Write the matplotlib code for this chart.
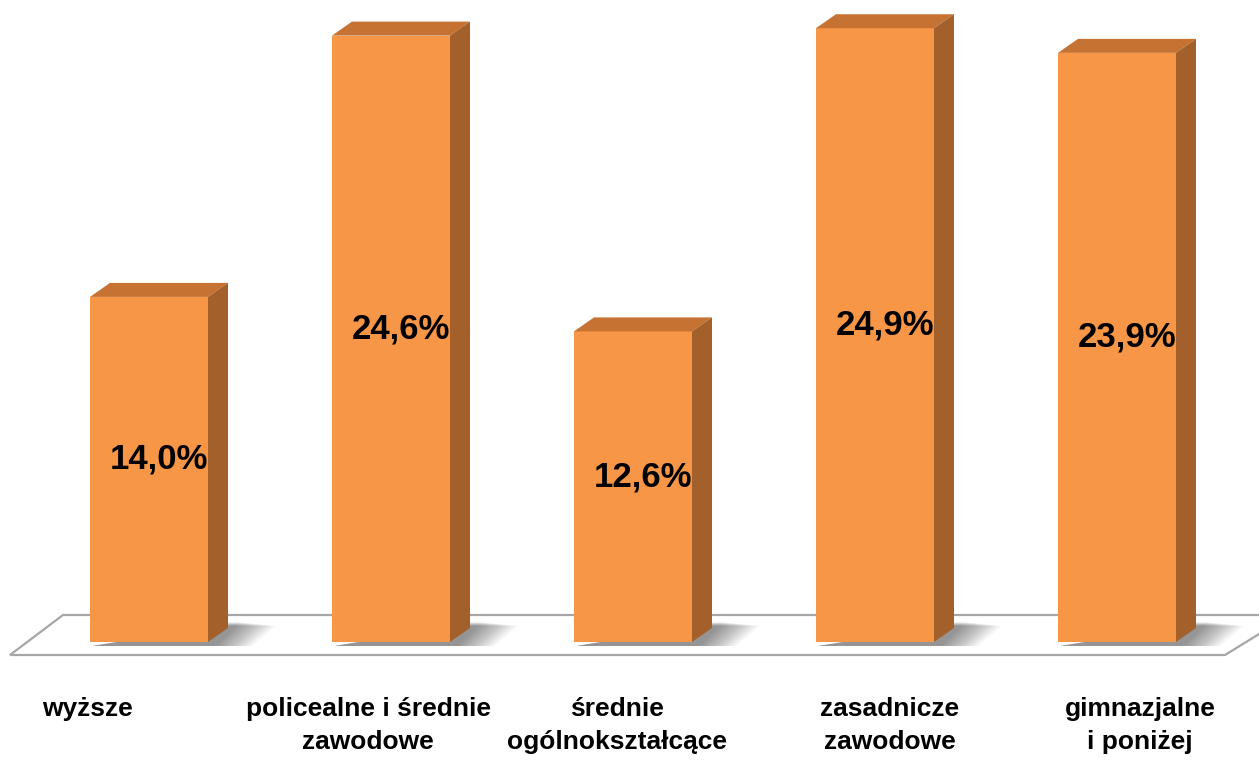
import matplotlib.pyplot as plt
from matplotlib.patches import Polygon
import numpy as np

plt.rcParams['font.family'] = ['Liberation Sans', 'DejaVu Sans']

categories = ['wyższe', 'policealne i średnie\nzawodowe', 'średnie\nogólnokształcące',
              'zasadnicze\nzawodowe', 'gimnazjalne\ni poniżej']
values = [14.0, 24.6, 12.6, 24.9, 23.9]
value_labels = ['14,0%', '24,6%', '12,6%', '24,9%', '23,9%']

FRONT = '#F79646'
TOP = '#C57232'
SIDE = '#A3602A'

# pixel -> data conversion (figure is 1259x763 px)
PX_X = 242.0   # px per category
PX_Y = 24.65   # px per percent
x0_px = 149.0
base_px = 642.0

W, H = 1259, 763
fig = plt.figure(figsize=(W / 100, H / 100), dpi=100)
ax = fig.add_axes([0, 0, 1, 1])
ax.set_xlim(-x0_px / PX_X, (W - x0_px) / PX_X)
ax.set_ylim(-(H - base_px) / PX_Y, base_px / PX_Y)
ax.axis('off')


def px(dx):
    return dx / PX_X


def py(dy):
    return dy / PX_Y


half = px(59)
dx = px(20)
dy = py(14)

# floor
floor_front = py(-13)
floor_back = py(27)
floor = Polygon([(px(10 - x0_px), floor_front), (px(63 - x0_px), floor_back),
                 (px(1290 - x0_px), floor_back), (px(1225 - x0_px), floor_front)],
                closed=True, facecolor='white', edgecolor='#A6A6A6', lw=1.6, zorder=1)
ax.add_patch(floor)

# soft shadows on the floor, to the right of each bar
n_layers = 24
for i in range(len(values)):
    for k in range(n_layers):
        g = (n_layers - k) * 1.6
        sh = Polygon([(i - half + px(2), py(-4)),
                      (i + half + px(6 + g), py(-4)),
                      (i + half + px(30 + g), py(20 - g * 0.1)),
                      (i + half + dx, py(20 - g * 0.1))],
                     closed=True, facecolor='black', alpha=0.018, lw=0,
                     antialiased=True, zorder=2)
        ax.add_patch(sh)

x = np.arange(len(values))
ax.bar(x, values, width=2 * half, color=FRONT, edgecolor='none', zorder=3)
for i, v in enumerate(values):
    top = Polygon([(i - half, v), (i - half + dx, v + dy), (i + half + dx, v + dy), (i + half, v)],
                  closed=True, facecolor=TOP, edgecolor='none', zorder=3)
    side = Polygon([(i + half, 0), (i + half + dx, dy), (i + half + dx, v + dy), (i + half, v)],
                   closed=True, facecolor=SIDE, edgecolor='none', zorder=3)
    ax.add_patch(top)
    ax.add_patch(side)
    ax.text(i + dx / 2, v / 2 + py(10), value_labels[i], ha='center', va='center',
            fontsize=25, fontweight='bold', color='black', zorder=4)

label_shift = [-62, -23, -16, 15, 23]
for i, lab in enumerate(categories):
    ax.text(i + px(label_shift[i]), py(-55), lab, ha='center', va='top',
            multialignment='center', fontsize=19, fontweight='bold',
            linespacing=1.45, color='black')

fig.savefig('out.png', dpi=100)
